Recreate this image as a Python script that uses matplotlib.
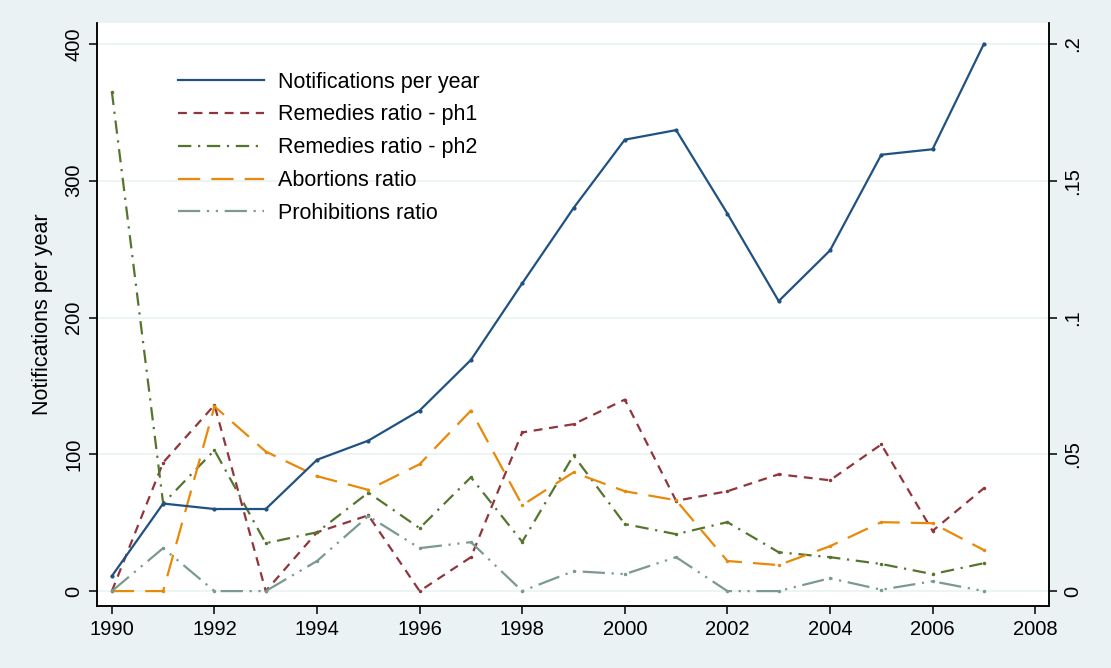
import numpy as np
import matplotlib.pyplot as plt

plt.rcParams['font.family'] = ['Liberation Sans', 'DejaVu Sans']

years = np.arange(1990, 2008)
notifications = [11, 64, 60, 60, 96, 110, 132, 169, 225, 280, 330, 337, 276, 212, 249, 319, 323, 400]
remedies_ph1 = [0, 0.047, 0.068, 0, 0.0215, 0.0277, 0, 0.0124, 0.058, 0.061, 0.070, 0.033,
                0.0365, 0.0427, 0.0405, 0.0536, 0.022, 0.0376]
remedies_ph2 = [0.1825, 0.032, 0.0515, 0.0175, 0.0215, 0.036, 0.023, 0.0416, 0.018, 0.0496,
                0.0245, 0.0208, 0.0252, 0.0142, 0.0124, 0.0099, 0.0062, 0.0102]
abortions = [0, 0, 0.0675, 0.051, 0.042, 0.037, 0.0464, 0.066, 0.0314, 0.0434, 0.0365, 0.0332,
             0.011, 0.0095, 0.0164, 0.0252, 0.0248, 0.015]
prohibitions = [0, 0.0157, 0, 0, 0.011, 0.0274, 0.0157, 0.0179, 0, 0.0073, 0.0062, 0.0124,
                0, 0, 0.0047, 0.0005, 0.0036, 0]

bg = '#eaf2f3'
fig = plt.figure(figsize=(11.11, 6.68), dpi=100, facecolor=bg)
ax = fig.add_axes([97 / 1111, 1 - 606 / 668, (1049 - 97) / 1111, (606 - 23) / 668])
ax2 = ax.twinx()
ax.set_zorder(ax2.get_zorder() + 1)
ax.patch.set_visible(False)
ax2.patch.set_facecolor('white')
ax2.patch.set_visible(True)

lw = 1.6
h1, = ax.plot(years, notifications, color='#1f5282', lw=lw, marker='o', ms=2,
              label='Notifications per year')
h2, = ax2.plot(years, remedies_ph1, color='#90353b', lw=lw, dashes=(4, 3), marker='o', ms=1.5,
               label='Remedies ratio - ph1')
h3, = ax2.plot(years, remedies_ph2, color='#55752f', lw=lw, dashes=(6, 3, 1, 3), marker='o', ms=1.5,
               label='Remedies ratio - ph2')
h4, = ax2.plot(years, abortions, color='#e8890a', lw=lw, dashes=(10, 5), marker='o', ms=1.5,
               label='Abortions ratio')
h5, = ax2.plot(years, prohibitions, color='#7a9a90', lw=lw, dashes=(10, 3, 1, 3, 1, 3), marker='o', ms=1.5,
               label='Prohibitions ratio')

ax.set_xlim(1989.71, 2008.27)
ax.set_ylim(-10.9, 415.3)
ax2.set_ylim(-0.00545, 0.20765)

ax.set_xticks(np.arange(1990, 2009, 2))
ax.set_yticks([0, 100, 200, 300, 400])
ax2.set_yticks([0, 0.05, 0.1, 0.15, 0.2])
ax2.set_yticklabels(['0', '.05', '.1', '.15', '.2'])

for y in [0, 100, 200, 300, 400]:
    ax2.axhline(y * 0.0005, color=bg, lw=1.2, zorder=0)

for a in (ax, ax2):
    a.spines['top'].set_visible(False)
    a.tick_params(direction='out', length=6, width=1.1, labelsize=14.5, pad=4)
    for s in a.spines.values():
        s.set_linewidth(1.1)
ax.tick_params(axis='y', labelrotation=90)
ax2.tick_params(axis='y', labelrotation=90)
for lab in ax.get_yticklabels():
    lab.set_va('center')
for lab in ax2.get_yticklabels():
    lab.set_va('center')

ax.set_ylabel('Notifications per year', fontsize=15.5, labelpad=8)

leg = ax.legend(handles=[h1, h2, h3, h4, h5], loc='upper left', bbox_to_anchor=(0.065, 0.95),
                frameon=False, fontsize=15.5, handlelength=4.0, handletextpad=0.65, labelspacing=0.55)
for line in leg.get_lines():
    line.set_marker('None')

fig.savefig('out.png', dpi=100, facecolor=bg)
